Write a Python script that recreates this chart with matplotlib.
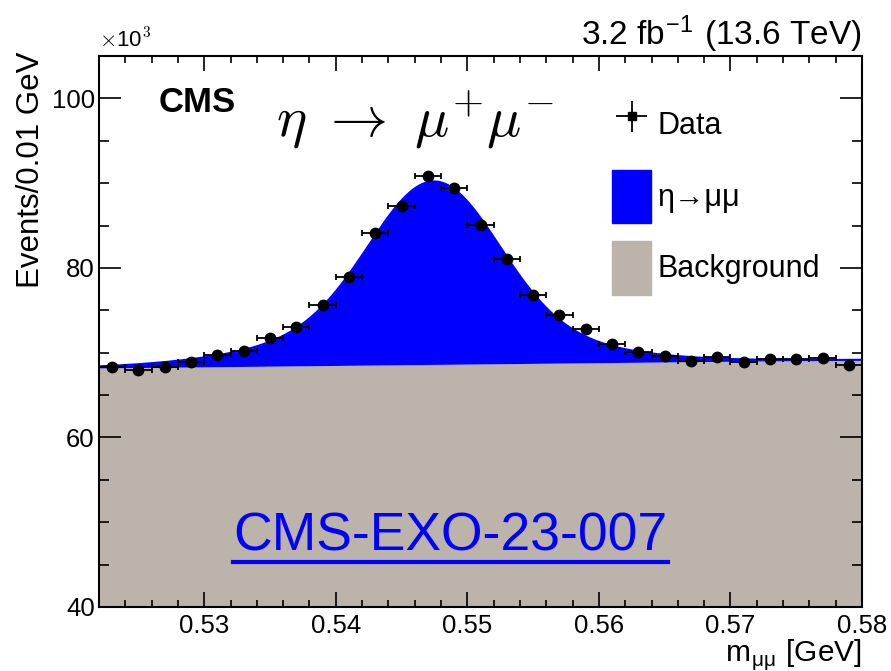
import numpy as np
import matplotlib
matplotlib.use('Agg')
import matplotlib.pyplot as plt
from matplotlib.patches import Patch
from matplotlib.lines import Line2D

plt.rcParams['font.family'] = ['Liberation Sans', 'DejaVu Sans']
plt.rcParams['mathtext.fontset'] = 'cm'

# data points (bin centres in GeV, counts in units of 10^3)
mass = np.arange(0.523, 0.5795, 0.002)
counts = [68.3, 68.0, 68.35, 68.86, 69.76, 70.2, 71.77, 72.99, 75.58, 78.9,
          84.07, 87.3, 90.83, 89.46, 85.02, 81.0, 76.83, 74.47, 72.79, 70.98,
          70.07, 69.64, 69.01, 69.52, 68.86, 69.25, 69.21, 69.33, 68.54]
counts = np.array(counts)
yerr = np.sqrt(counts * 1000) / 1000

# fit model
bkg_at_lo, bkg_at_hi = 68.2, 69.15      # background at x = 0.522 and 0.580
sig_core = dict(amp=16.8, mean=0.5475, sigma=0.0048)
sig_wide = dict(amp=4.8, mean=0.5467, sigma=0.0097)

xlo, xhi = 0.522, 0.58

def background(x):
    return bkg_at_lo + (bkg_at_hi - bkg_at_lo) * (x - xlo) / (xhi - xlo)

def signal(x):
    s = 0
    for p in (sig_core, sig_wide):
        s = s + p['amp'] * np.exp(-0.5 * ((x - p['mean']) / p['sigma']) ** 2)
    return s

BLUE = '#0000ff'
GREY = '#bcb3aa'

fig = plt.figure(figsize=(8.91, 6.71), dpi=100)
ax = fig.add_axes([99 / 891, 1 - 607 / 671, (862 - 99) / 891, (607 - 56) / 671])

xs = np.linspace(xlo, xhi, 600)
bk = background(xs)
tot = bk + signal(xs)
ax.fill_between(xs, 0, bk, color=GREY, lw=0, zorder=1)
ax.fill_between(xs, bk, tot, color=BLUE, lw=0, zorder=2)
ax.plot(xs, tot, color=BLUE, lw=1.5, zorder=3)

ax.errorbar(mass, counts, xerr=0.001, yerr=yerr, fmt='o', color='black',
            ms=7.5, elinewidth=1.3, capsize=2.5, capthick=1.3, zorder=5)

ax.set_xlim(xlo, xhi)
ax.set_ylim(40, 105)
ax.set_xticks([0.53, 0.54, 0.55, 0.56, 0.57, 0.58])
ax.set_xticklabels(['0.53', '0.54', '0.55', '0.56', '0.57', '0.58'])
ax.set_xticks(np.arange(0.522, 0.5801, 0.002), minor=True)
ax.set_yticks([40, 60, 80, 100])
ax.set_yticks(np.arange(40, 105.1, 5), minor=True)
ax.tick_params(which='both', direction='in', top=True, right=True,
               labelsize=18.5, width=1.2)
ax.tick_params(axis='y', which='major', length=16, pad=3)
ax.tick_params(axis='y', which='minor', length=7)
ax.tick_params(axis='x', which='major', length=11, pad=5)
ax.tick_params(axis='x', which='minor', length=5)
for s in ax.spines.values():
    s.set_linewidth(1.5)

# texts
fig.text(99 / 891, 1 - 48 / 671, r'$\times$10$^{3}$', fontsize=16,
         ha='left', va='baseline')
fig.text(862 / 891, 1 - 45 / 671, r'3.2 fb$^{\mathregular{-1}}$ (13.6 TeV)',
         fontsize=24, ha='right', va='baseline')
fig.text(31 / 891, 1 - 170 / 671, 'Events/0.01 GeV', fontsize=22.5,
         rotation=90, ha='center', va='center')
fig.text(862 / 891, 1 - 661 / 671, r'm$_{\mathregular{\mu\mu}}$ [GeV]',
         fontsize=21.5, ha='right', va='baseline')
ax.text((197 - 99) / 763, (607 - 103) / 551, 'CMS', transform=ax.transAxes,
        fontsize=25, fontweight='bold', ha='center', va='center')
ax.text(0.415, 0.884, r'$\eta\ \rightarrow\ \mu^{+}\mu^{-}$', transform=ax.transAxes,
        fontsize=41, ha='center', va='center')

link = ax.text(0.4607, 0.1034, 'CMS-EXO-23-007', transform=ax.transAxes,
               fontsize=38.5, color=BLUE, ha='center', va='baseline', zorder=6)
fig.canvas.draw()
bb = link.get_window_extent(fig.canvas.get_renderer())
inv = fig.transFigure.inverted()
(x0, y0), (x1, _) = inv.transform([(bb.x0, bb.y0), (bb.x1, bb.y0)])
fig.add_artist(Line2D([x0, x1], [y0 - 0.001, y0 - 0.001], color=BLUE, lw=3))

# legend
data_h = ax.errorbar([np.nan], [np.nan], xerr=[1], yerr=[1], fmt='s',
                     color='black', ms=6, elinewidth=1.3)
handles = [data_h, Patch(facecolor=BLUE, edgecolor=BLUE),
           Patch(facecolor=GREY, edgecolor=GREY)]
labels = ['Data', 'η→μμ', 'Background']
ax.legend(handles, labels, loc='upper left', bbox_to_anchor=(0.672, 0.923),
          frameon=False, fontsize=22, handlelength=1.3, handleheight=2.3,
          handletextpad=0.2, labelspacing=0.6, borderpad=0, borderaxespad=0)

fig.savefig('out.png', dpi=100)
